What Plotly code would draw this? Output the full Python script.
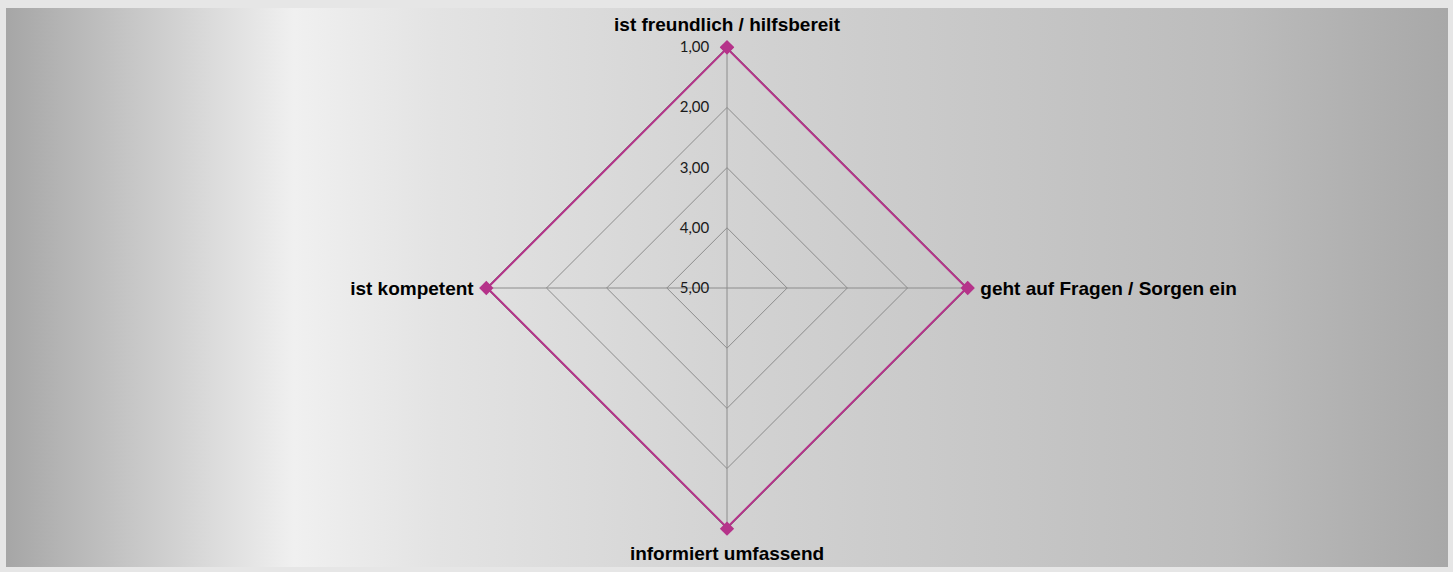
import base64
import plotly.graph_objects as go

categories = ["ist freundlich / hilfsbereit", "geht auf Fragen / Sorgen ein",
              "informiert umfassend", "ist kompetent"]
values = [1.0, 1.0, 1.0, 1.0]
tick_vals = [1, 2, 3, 4, 5]
tick_text = ["1,00", "2,00", "3,00", "4,00", "5,00"]

W, H = 1453, 572

# gradient background (Excel-like silver) as an SVG image
stops = [(0, "#a6a6a6"), (0.2, "#f0f0f0"), (0.3, "#e3e3e3"), (0.5, "#d3d3d3"),
         (0.7, "#c6c6c6"), (0.85, "#bcbcbc"), (1.0, "#a8a8a8")]
stop_xml = "".join(f'<stop offset="{o}" stop-color="{c}"/>' for o, c in stops)
svg = (f'<svg xmlns="http://www.w3.org/2000/svg" width="1442" height="559" preserveAspectRatio="none">'
       f'<defs><linearGradient id="g" x1="0" y1="0" x2="1" y2="0">{stop_xml}</linearGradient></defs>'
       f'<rect x="0" y="0" width="1442" height="559" fill="url(#g)"/></svg>')
src = "data:image/svg+xml;base64," + base64.b64encode(svg.encode()).decode()

fig = go.Figure()
fig.add_trace(go.Scatterpolar(
    r=values + values[:1], theta=categories + categories[:1],
    mode="lines+markers", cliponaxis=False,
    line=dict(color="#b5338a", width=3.5),
    marker=dict(symbol="diamond", size=11, color="#b5338a"),
    showlegend=False, hoverinfo="skip"))

cx, cy, R = 727, 288, 241
fig.update_layout(
    width=W, height=H,
    margin=dict(l=0, r=0, t=0, b=0),
    paper_bgcolor="#e6e6e6",
    separators=",.",
    images=[dict(source=src, xref="paper", yref="paper",
                 x=6 / W, y=1 - 8 / H, sizex=1442 / W, sizey=559 / H,
                 xanchor="left", yanchor="top", sizing="stretch", layer="below")],
    polar=dict(
        domain=dict(x=[(cx - R) / W, (cx + R) / W], y=[(H - cy - R) / H, (H - cy + R) / H]),
        bgcolor="rgba(0,0,0,0)",
        gridshape="linear",
        radialaxis=dict(range=[5, 0.995], tickvals=tick_vals, ticktext=tick_text,
                        angle=90, tickangle=90, side="counterclockwise",
                        showline=False, ticks="outside", ticklen=12,
                        tickcolor="rgba(0,0,0,0)",
                        gridcolor="#8c8c8c", gridwidth=1, layer="below traces",
                        tickfont=dict(family="Lato", size=15, color="#1a1a1a")),
        angularaxis=dict(rotation=90, direction="clockwise",
                         gridcolor="#8c8c8c", gridwidth=1, layer="below traces",
                         linecolor="#8c8c8c", showline=True,
                         ticks="outside", ticklen=8, tickcolor="rgba(0,0,0,0)",
                         tickfont=dict(family="Liberation Sans", size=19, color="black",
                                       weight="bold"))
    ),
    font=dict(family="Liberation Sans"),
)
fig.write_html("out.html", config={"displayModeBar": False},
               post_script="document.body.style.margin='0';")
